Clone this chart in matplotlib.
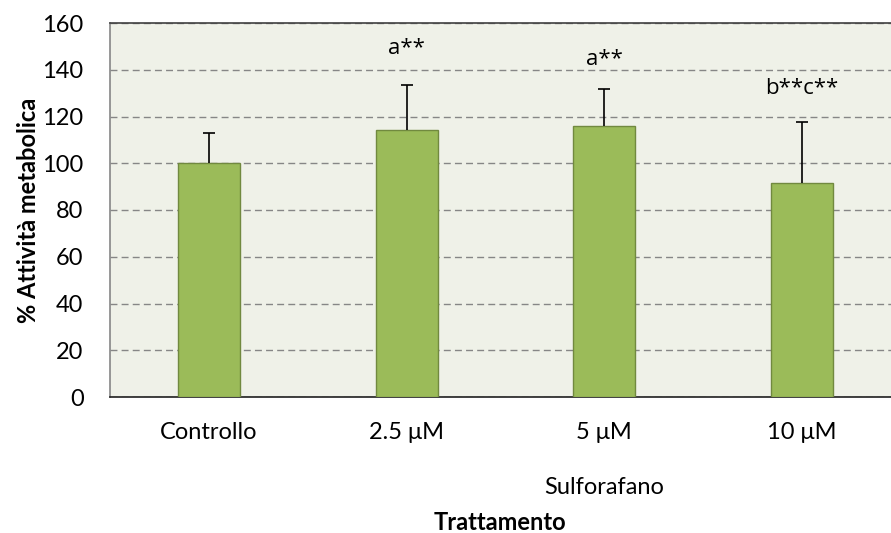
import matplotlib
matplotlib.use("Agg")
import matplotlib.pyplot as plt

categories = ["Controllo", "2.5 μM", "5 μM", "10 μM"]
values = [100, 114.2, 116, 91.7]
errors = [13, 19.3, 15.8, 26.1]
labels = ["", "a**", "a**", "b**c**"]
label_y = [None, 149, 144.5, 132]

plt.rcParams['font.family'] = ['Lato', 'DejaVu Sans']

fig = plt.figure(figsize=(8.91, 5.33), dpi=100)
ax = fig.add_axes([110/891, (533-397)/533, 781/891, 374/533])
ax.set_facecolor("#EFF1E8")

x = list(range(len(categories)))
ax.bar(x, values, width=0.314, color="#9BBB59", edgecolor="#71893F", linewidth=1, zorder=3)
eb = ax.errorbar(x, values, yerr=[[0]*len(errors), errors], fmt="none", ecolor="black",
                 elinewidth=1.2, capsize=4.3, capthick=1.2, zorder=4)
eb[1][0].set_visible(False)

for xi, lab, ly in zip(x, labels, label_y):
    if lab:
        ax.text(xi, ly, lab, ha="center", va="center", fontsize=16, color="black",
                family=["Open Sans", "DejaVu Sans"])

ax.set_ylim(0, 160)
ax.set_xlim(-0.5, 3.45)
ax.set_yticks(range(0, 161, 20))
ax.set_xticks(x)
ax.set_xticklabels(categories, fontsize=17)
ax.tick_params(axis="y", labelsize=17, length=0, pad=19)
ax.tick_params(axis="x", length=0, pad=18)
ax.yaxis.grid(True, linestyle=(0, (5, 3)), color="#868686", linewidth=1, zorder=0)
ax.set_axisbelow(True)

ax.spines["right"].set_visible(False)
ax.spines["top"].set_color("#404040")
ax.spines["left"].set_color("#868686")
ax.spines["bottom"].set_color("#202020")
for s in ["top", "left", "bottom"]:
    ax.spines[s].set_linewidth(1.2)

ax.set_ylabel("% Attività metabolica", fontsize=17, fontweight="bold")
ax.yaxis.set_label_coords(-(110-40)/781, 0.5)

fig.text(604/891, 1 - 487/533, "Sulforafano", ha="center", va="center", fontsize=17)
fig.text(500/891, 1 - 522/533, "Trattamento", ha="center", va="center", fontsize=17, fontweight="bold")

fig.savefig("out.png", dpi=100)
